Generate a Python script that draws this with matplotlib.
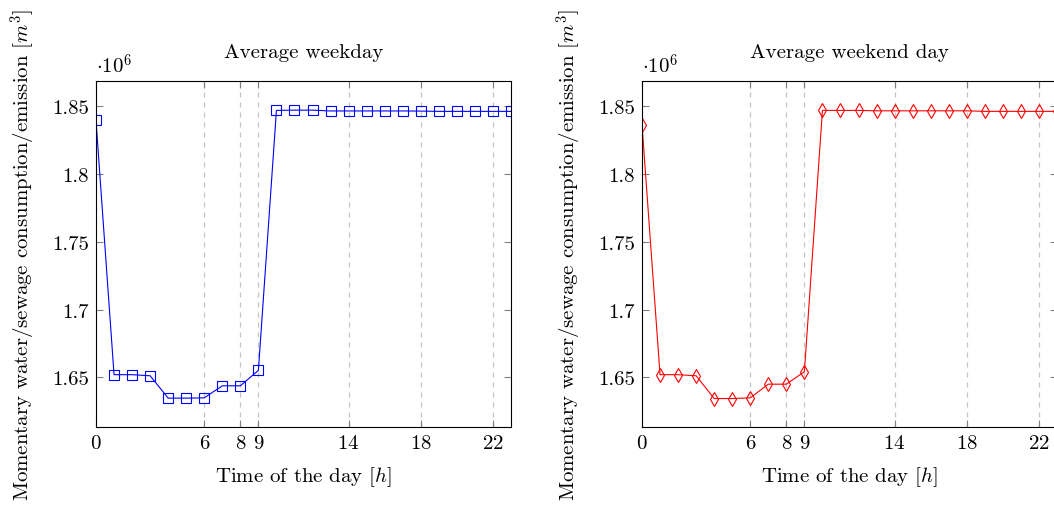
import matplotlib
matplotlib.use("Agg")
import matplotlib.pyplot as plt
from matplotlib.ticker import FuncFormatter

plt.rcParams["font.family"] = "cmr10"
plt.rcParams["mathtext.fontset"] = "cm"
plt.rcParams["axes.formatter.use_mathtext"] = True

# Hourly averages (m^3)
hours = list(range(24))
weekday = [1839600, 1652000, 1652000, 1651200, 1634700, 1634700, 1634900, 1643800,
           1643800, 1655200, 1847000, 1847200, 1847200, 1846600, 1846600, 1846600,
           1846600, 1846600, 1846500, 1846300, 1846300, 1846300, 1846300, 1846300]
weekend = [1836400, 1652000, 1652000, 1651200, 1634400, 1634400, 1634900, 1645000,
           1645000, 1654200, 1847000, 1847000, 1847000, 1846700, 1846700, 1846700,
           1846700, 1846700, 1846700, 1846300, 1846300, 1846300, 1846300, 1846300]
xticks = [0, 6, 8, 9, 14, 18, 22]
yticks = [1.65e6, 1.70e6, 1.75e6, 1.80e6, 1.85e6]

fig = plt.figure(figsize=(10.54, 5.10), dpi=100)
ax1 = fig.add_axes([96 / 1054, 82 / 510, 415 / 1054, 346 / 510])
ax2 = fig.add_axes([642 / 1054, 82 / 510, 415 / 1054, 346 / 510])

panels = [
    (ax1, weekday, "Average weekday", "blue", "s", 6.6),
    (ax2, weekend, "Average weekend day", "red", "d", 6.8),
]

fs = 15
for ax, vals, title, color, marker, ms in panels:
    for x in xticks[1:]:
        ax.axvline(x, color="#c4c4c4", linestyle=(0, (4, 4)), linewidth=0.9, zorder=0)
    ax.plot(hours, vals, color=color, marker=marker, markersize=ms,
            markerfacecolor="none", markeredgewidth=0.8, linewidth=0.8)
    ax.set_xlim(0, 23)
    ax.set_ylim(1.6134e6, 1.8687e6)
    ax.set_xticks(xticks)
    ax.set_yticks(yticks)
    ax.yaxis.set_major_formatter(FuncFormatter(lambda v, p: f"{v / 1e6:g}"))
    ax.tick_params(direction="in", length=5, width=0.8, color="#808080",
                   top=True, right=True, labelsize=fs, pad=5)
    for s in ax.spines.values():
        s.set_linewidth(0.8)
    ax.set_title(title, fontsize=fs, pad=17)
    ax.set_xlabel("Time of the day [$h$]", fontsize=fs, labelpad=9)
    ax.set_ylabel("Momentary water/sewage consumption/emission [$m^3$]", fontsize=fs, labelpad=10)
    ax.text(0.0, 1.012, r"$\cdot10^{6}$", transform=ax.transAxes, fontsize=fs,
            ha="left", va="bottom")

fig.savefig("out.png", dpi=100)
